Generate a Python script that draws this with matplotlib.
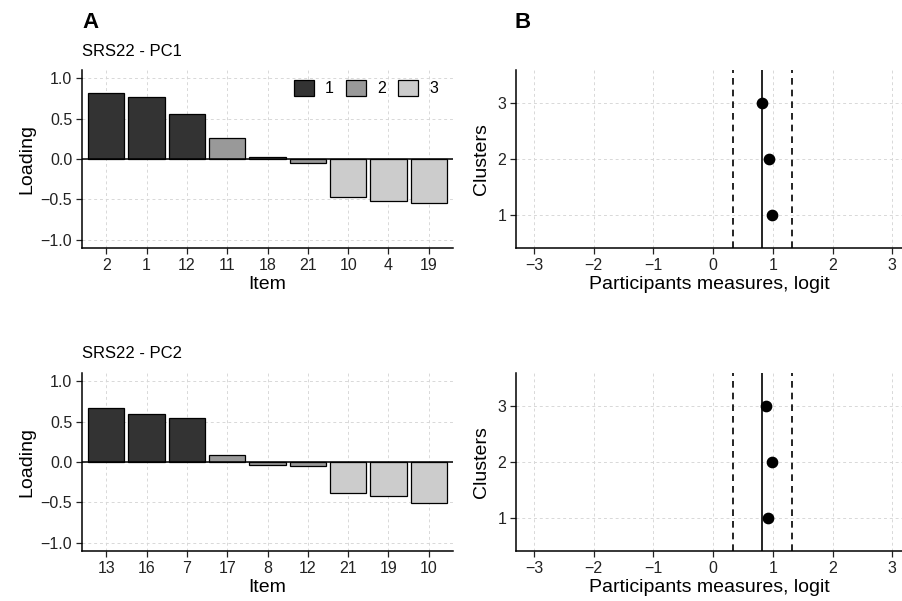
import matplotlib.pyplot as plt
import numpy as np

plt.rcParams['font.family'] = ['Liberation Sans', 'DejaVu Sans']

# loadings, panel A
pc1_items = ['2', '1', '12', '11', '18', '21', '10', '4', '19']
pc1_load = [0.81, 0.77, 0.555, 0.265, 0.02, -0.045, -0.47, -0.52, -0.54]
pc1_clust = [1, 1, 1, 2, 2, 2, 3, 3, 3]

pc2_items = ['13', '16', '7', '17', '8', '12', '21', '19', '10']
pc2_load = [0.67, 0.59, 0.54, 0.086, -0.037, -0.049, -0.38, -0.42, -0.51]
pc2_clust = [1, 1, 1, 2, 2, 2, 3, 3, 3]

# participant measures per cluster, panel B
clusters = [1, 2, 3]
pc1_measure = [0.99, 0.935, 0.823]
pc2_measure = [0.92, 0.99, 0.88]
mean_line = 0.82
band = [0.33, 1.32]

fill = {1: '#333333', 2: '#999999', 3: '#cccccc'}
grid_kw = dict(color='#d8d8d8', linestyle=(0, (3, 3)), linewidth=0.7)
TICK = 11.5
TITLE = 14

fig = plt.figure(figsize=(9.03, 6.01), dpi=100)
W, H = 903, 601


def ax_px(x0, y0, x1, y1):
    # axes from pixel box (top-left origin)
    return fig.add_axes([x0 / W, 1 - y1 / H, (x1 - x0) / W, (y1 - y0) / H])


def style(ax):
    for s in ['top', 'right']:
        ax.spines[s].set_visible(False)
    for s in ['left', 'bottom']:
        ax.spines[s].set_linewidth(1.1)
    ax.tick_params(labelsize=TICK, length=4, width=0.9, colors='#222222', pad=3)
    ax.set_axisbelow(True)


def bar_panel(ax, items, load, clust, show_legend):
    style(ax)
    x = np.arange(len(items))
    ax.grid(True, **grid_kw)
    ax.bar(x, load, width=0.9, color=[fill[c] for c in clust],
           edgecolor='black', linewidth=0.9, zorder=2)
    ax.axhline(0, color='black', linewidth=1.1, zorder=3)
    ax.set_xlim(-0.6, len(items) - 0.4)
    ax.set_ylim(-1.1, 1.1)
    ax.set_xticks(x)
    ax.set_xticklabels(items)
    ax.set_yticks([-1.0, -0.5, 0.0, 0.5, 1.0])
    ax.set_yticklabels(['\u22121.0', '\u22120.5', '0.0', '0.5', '1.0'])
    ax.set_xlabel('Item', fontsize=TITLE, labelpad=2)
    ax.set_ylabel('Loading', fontsize=TITLE, labelpad=4)
    if show_legend:
        handles = [plt.Rectangle((0, 0), 1, 1, facecolor=fill[c],
                                 edgecolor='black', linewidth=0.9) for c in clusters]
        ax.legend(handles, [str(c) for c in clusters], ncol=3, frameon=False,
                  loc='upper right', bbox_to_anchor=(0.985, 1.0),
                  fontsize=TICK, handlelength=1.25, handleheight=1.25,
                  handletextpad=0.7, columnspacing=0.75, borderaxespad=0.2)


def dot_panel(ax, measure):
    style(ax)
    ax.grid(True, **grid_kw)
    ax.axvline(mean_line, color='black', linewidth=1.2, zorder=2)
    for b in band:
        ax.axvline(b, color='black', linewidth=1.2, linestyle=(0, (4, 3)), zorder=2)
    ax.scatter(measure, clusters, s=55, color='black', zorder=3)
    ax.set_xlim(-3.3, 3.18)
    ax.set_ylim(0.4, 3.6)
    ax.set_xticks([-3, -2, -1, 0, 1, 2, 3])
    ax.set_xticklabels(['\u22123', '\u22122', '\u22121', '0', '1', '2', '3'])
    ax.set_yticks(clusters)
    ax.set_xlabel('Participants measures, logit', fontsize=TITLE, labelpad=2)
    ax.set_ylabel('Clusters', fontsize=TITLE, labelpad=5)


a1 = ax_px(82, 70, 453, 248)
bar_panel(a1, pc1_items, pc1_load, pc1_clust, True)
a2 = ax_px(82, 373, 453, 551)
bar_panel(a2, pc2_items, pc2_load, pc2_clust, False)

b1 = ax_px(516, 70, 903, 248)
dot_panel(b1, pc1_measure)
b2 = ax_px(516, 373, 903, 551)
dot_panel(b2, pc2_measure)

fig.text(82 / W, 1 - 22 / H, 'A', fontsize=16, fontweight='bold', va='center')
fig.text(515 / W, 1 - 22 / H, 'B', fontsize=16, fontweight='bold', va='center')
fig.text(82 / W, 1 - 52 / H, 'SRS22 - PC1', fontsize=12, va='center')
fig.text(82 / W, 1 - 354 / H, 'SRS22 - PC2', fontsize=12, va='center')

fig.savefig('out.png', dpi=100)
